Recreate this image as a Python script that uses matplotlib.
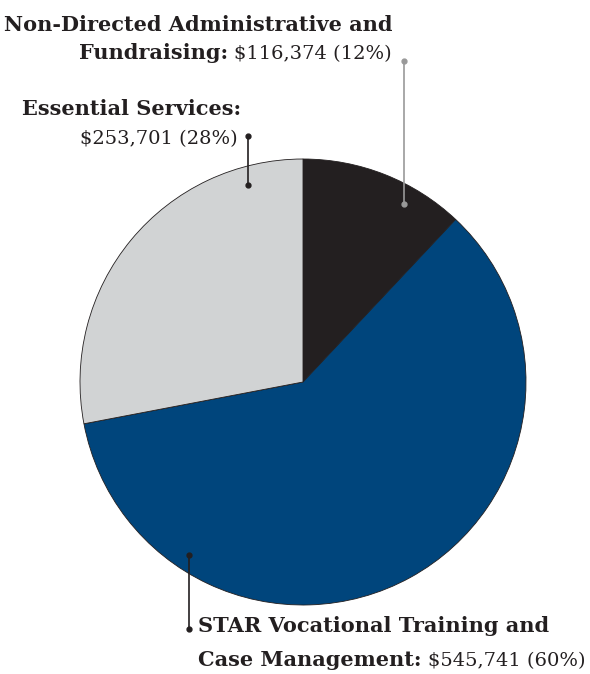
import matplotlib.pyplot as plt

# slices, clockwise from 12 o'clock
categories = ['Non-Directed Administrative and Fundraising',
              'STAR Vocational Training and Case Management',
              'Essential Services']
amounts = ['$116,374', '$545,741', '$253,701']
percents = [12, 60, 28]
colors = ['#231f20', '#00457c', '#d1d3d4']

W, H = 590, 674
fig = plt.figure(figsize=(W / 100, H / 100), dpi=100)
ax = fig.add_axes([0, 0, 1, 1])

ax.pie(percents, colors=colors, startangle=90, counterclock=False,
       center=(303, H - 382), radius=223, frame=True,
       wedgeprops=dict(edgecolor='#231f20', linewidth=0.6))
ax.set_xlim(0, W)
ax.set_ylim(0, H)
ax.axis('off')

fs_b = 15
fs_r = 14
serif = 'DejaVu Serif'
ink = '#231f20'
renderer = fig.canvas.get_renderer()


def px(y):
    return H - y


def text_width(t):
    return t.get_window_extent(renderer=renderer).width


def bold(x, y, s, ha):
    return ax.text(x, px(y), s, fontsize=fs_b, fontweight='bold', family=serif,
                   color=ink, ha=ha, va='baseline')


def reg(x, y, s, ha):
    return ax.text(x, px(y), s, fontsize=fs_r, family=serif,
                   color=ink, ha=ha, va='baseline')


def mixed_left(x, y, b, r):
    t = bold(x, y, b, 'left')
    reg(x + text_width(t) + 6, y, r, 'left')


def mixed_right(x, y, b, r):
    t = reg(x, y, r, 'right')
    bold(x - text_width(t) - 6, y, b, 'right')


# Non-Directed label
bold(392, 31, 'Non-Directed Administrative and', 'right')
mixed_right(392, 59, 'Fundraising:', '%s (%d%%)' % (amounts[0], percents[0]))

# Essential Services label
bold(22, 115, 'Essential Services:', 'left')
reg(238, 144, '%s (%d%%)' % (amounts[2], percents[2]), 'right')

# STAR label
bold(198, 632, 'STAR Vocational Training and', 'left')
mixed_left(198, 666, 'Case Management:', '%s (%d%%)' % (amounts[1], percents[1]))

# leader lines
leaders = [((404, 61), (404, 204), '#999999'),
           ((248, 136), (248, 185), ink),
           ((189, 555), (189, 629), ink)]
for (x0, y0), (x1, y1), c in leaders:
    ax.plot([x0, x1], [px(y0), px(y1)], color=c, lw=1.2)
    ax.plot([x0, x1], [px(y0), px(y1)], 'o', color=c, ms=3.5)

fig.savefig('out.png', dpi=100, facecolor='white')
